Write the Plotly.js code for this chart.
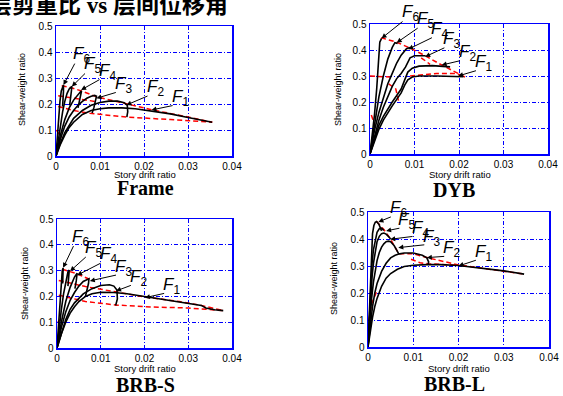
<!DOCTYPE html>
<html><head><meta charset="utf-8">
<script src="https://cdn.plot.ly/plotly-3.0.1.min.js"></script>
<style>html,body{margin:0;padding:0;background:#fff}#chart{width:563px;height:396px}</style>
</head><body><div id="chart"></div>
<script>
// ---------- DATA ----------
const panelNames = ['Frame', 'DYB', 'BRB-S', 'BRB-L'];
const chartTitle = '层剪重比 vs 层间位移角';
const xAxisLabel = 'Story drift ratio';
const yAxisLabel = 'Shear-weight ratio';
const curveNames = ['F1','F2','F3','F4','F5','F6'];

// Frame
const frame_F1_x = [0,0.001,0.002,0.003,0.004,0.006,0.008,0.01,0.012,0.015,0.018,0.022,0.026,0.03,0.0355];
const frame_F1_y = [0,0.045,0.08,0.11,0.13,0.16,0.175,0.182,0.185,0.185,0.182,0.173,0.162,0.148,0.13];
const frame_F2_x = [0,0.001,0.002,0.003,0.004,0.006,0.008,0.01,0.012,0.014,0.0155,0.0162,0.0163,0.0161];
const frame_F2_y = [0,0.05,0.09,0.12,0.145,0.175,0.195,0.206,0.211,0.211,0.205,0.195,0.17,0.15];
const frame_F3_x = [0,0.001,0.002,0.003,0.004,0.005,0.006,0.007,0.008,0.0088,0.0092,0.009,0.0086,0.0082];
const frame_F3_y = [0,0.065,0.115,0.15,0.175,0.195,0.21,0.222,0.23,0.233,0.23,0.21,0.185,0.165];
const frame_F4_x = [0,0.001,0.002,0.003,0.004,0.005,0.0056,0.0058,0.0056,0.0053,0.005];
const frame_F4_y = [0,0.08,0.14,0.185,0.215,0.238,0.248,0.25,0.23,0.205,0.185];
const frame_F5_x = [0,0.0005,0.001,0.0015,0.002,0.0025,0.003,0.0034,0.0036,0.0035,0.0033,0.0031];
const frame_F5_y = [0,0.06,0.12,0.17,0.21,0.24,0.258,0.266,0.268,0.25,0.22,0.195];
const frame_F6_x = [0,0.0003,0.0006,0.0009,0.0012,0.0015,0.0017,0.0017,0.0016,0.0015];
const frame_F6_y = [0,0.08,0.15,0.21,0.25,0.27,0.273,0.25,0.22,0.19];
const frame_R1_x = [0.0013,0.0036,0.0058,0.0092,0.0162,0.022,0.03,0.0355];
const frame_R1_y = [0.27,0.262,0.25,0.228,0.2,0.177,0.15,0.13];
const frame_R2_x = [0.0005,0.0045,0.0088];
const frame_R2_y = [0.232,0.222,0.21];
const frame_R3_x = [0.0005,0.004,0.0077,0.016,0.026,0.0355];
const frame_R3_y = [0.19,0.175,0.164,0.15,0.14,0.13];
const frame_R4_x = [0.0001,0.0012];
const frame_R4_y = [0.1,0.07];

// DYB
const dyb_F1_x = [0,0.001,0.002,0.003,0.004,0.005,0.006,0.007,0.0078,0.0085,0.0095,0.011,0.015,0.019,0.021];
const dyb_F1_y = [0,0.05,0.095,0.13,0.16,0.185,0.21,0.235,0.265,0.285,0.296,0.3,0.3,0.298,0.297];
const dyb_F2_x = [0,0.001,0.002,0.003,0.004,0.005,0.006,0.007,0.0078,0.0085,0.0095,0.011,0.014,0.017,0.018];
const dyb_F2_y = [0,0.06,0.11,0.145,0.175,0.2,0.225,0.25,0.285,0.315,0.33,0.338,0.34,0.338,0.335];
const dyb_F3_x = [0,0.001,0.002,0.003,0.004,0.005,0.006,0.007,0.008,0.009,0.01,0.012,0.0125];
const dyb_F3_y = [0,0.07,0.13,0.18,0.22,0.26,0.29,0.31,0.335,0.37,0.378,0.38,0.378];
const dyb_F4_x = [0,0.001,0.002,0.003,0.004,0.005,0.006,0.007,0.0082,0.009];
const dyb_F4_y = [0,0.09,0.16,0.22,0.27,0.31,0.35,0.38,0.405,0.41];
const dyb_F5_x = [0,0.001,0.002,0.003,0.004,0.005,0.0056,0.0062];
const dyb_F5_y = [0,0.12,0.22,0.3,0.365,0.41,0.428,0.425];
const dyb_F6_x = [0,0.0005,0.001,0.0015,0.0019,0.0022,0.0026];
const dyb_F6_y = [0,0.07,0.15,0.25,0.34,0.43,0.445];
const dyb_R1_x = [0.0025,0.006,0.0093,0.0124,0.0157,0.0187,0.0217];
const dyb_R1_y = [0.447,0.43,0.405,0.378,0.346,0.32,0.293];
const dyb_R2_x = [0,0.0045];
const dyb_R2_y = [0.3,0.296];
const dyb_R3_x = [0.0003,0.0015];
const dyb_R3_y = [0.15,0.09];
const dyb_R4_x = [0.0042,0.0058,0.0064];
const dyb_R4_y = [0.27,0.25,0.205];
const dyb_R5_x = [0.009,0.012,0.015,0.019,0.0215];
const dyb_R5_y = [0.3,0.305,0.31,0.31,0.3];
const dyb_R6_x = [0.0115,0.0135];
const dyb_R6_y = [0.37,0.345];

// BRB-S
const brbs_F1_x = [0,0.001,0.002,0.003,0.004,0.005,0.0065,0.008,0.01,0.013,0.016,0.02,0.024,0.028,0.031,0.033,0.034,0.036,0.038];
const brbs_F1_y = [0,0.055,0.1,0.135,0.16,0.18,0.2,0.21,0.216,0.215,0.21,0.2,0.19,0.18,0.172,0.165,0.155,0.148,0.145];
const brbs_F2_x = [0,0.001,0.002,0.003,0.004,0.006,0.008,0.01,0.012,0.013,0.0137,0.0138,0.0134];
const brbs_F2_y = [0,0.06,0.11,0.15,0.175,0.21,0.23,0.242,0.245,0.24,0.225,0.19,0.165];
const brbs_F3_x = [0,0.001,0.002,0.003,0.004,0.005,0.006,0.007,0.0073,0.0072,0.0069,0.0065];
const brbs_F3_y = [0,0.08,0.14,0.185,0.215,0.24,0.258,0.267,0.268,0.25,0.225,0.2];
const brbs_F4_x = [0,0.001,0.002,0.003,0.004,0.0045,0.0046,0.0044,0.0041];
const brbs_F4_y = [0,0.1,0.18,0.235,0.275,0.287,0.29,0.26,0.23];
const brbs_F5_x = [0,0.0005,0.001,0.0015,0.002,0.0025,0.0028,0.0027,0.0025];
const brbs_F5_y = [0,0.08,0.15,0.21,0.26,0.295,0.302,0.27,0.24];
const brbs_F6_x = [0,0.0003,0.0006,0.0009,0.0012,0.0014,0.0014,0.0013];
const brbs_F6_y = [0,0.08,0.17,0.25,0.3,0.31,0.28,0.25];
const brbs_R1_x = [0.0012,0.0045,0.008];
const brbs_R1_y = [0.305,0.288,0.262];
const brbs_R2_x = [0.0004,0.0065,0.0133,0.02,0.028,0.033,0.038];
const brbs_R2_y = [0.262,0.238,0.218,0.198,0.18,0.165,0.145];
const brbs_R3_x = [0.0004,0.0065,0.0133,0.02,0.03,0.038];
const brbs_R3_y = [0.205,0.18,0.167,0.16,0.155,0.145];
const brbs_R4_x = [0.0002,0.0012];
const brbs_R4_y = [0.1,0.12];

// BRB-L
const brbl_F1_x = [0,0.0005,0.001,0.0015,0.002,0.003,0.004,0.005,0.0065,0.008,0.01,0.013,0.016,0.02,0.025,0.03,0.0345];
const brbl_F1_y = [0,0.06,0.11,0.15,0.18,0.225,0.255,0.272,0.288,0.298,0.303,0.305,0.305,0.302,0.292,0.282,0.27];
const brbl_F2_x = [0,0.0005,0.001,0.0015,0.002,0.003,0.004,0.005,0.006,0.007,0.008,0.01,0.012,0.013,0.0134,0.0133];
const brbl_F2_y = [0,0.08,0.15,0.2,0.235,0.28,0.31,0.33,0.34,0.345,0.348,0.348,0.34,0.33,0.315,0.305];
const brbl_F3_x = [0,0.0004,0.0008,0.0012,0.0016,0.002,0.0025,0.003,0.0035,0.004,0.0045,0.005,0.0058,0.0068];
const brbl_F3_y = [0,0.1,0.18,0.24,0.285,0.32,0.35,0.37,0.382,0.39,0.392,0.39,0.375,0.345];
const brbl_F4_x = [0,0.0003,0.0006,0.0009,0.0012,0.0016,0.002,0.0025,0.003,0.0035,0.004,0.0045,0.005];
const brbl_F4_y = [0,0.1,0.19,0.26,0.31,0.36,0.39,0.41,0.42,0.422,0.418,0.41,0.4];
const brbl_F5_x = [0,0.0003,0.0006,0.0009,0.0012,0.0016,0.002,0.0025,0.003,0.0035];
const brbl_F5_y = [0,0.12,0.23,0.31,0.36,0.4,0.425,0.438,0.44,0.432];
const brbl_F6_x = [0,0.0002,0.0004,0.0006,0.0008,0.001,0.0013,0.0016,0.0019,0.0024,0.003];
const brbl_F6_y = [0,0.1,0.2,0.3,0.38,0.42,0.45,0.462,0.465,0.455,0.43];
const brbl_R1_x = [0.0019,0.0035,0.0049,0.0058,0.0068,0.01,0.0133,0.02,0.027,0.0345];
const brbl_R1_y = [0.465,0.435,0.402,0.375,0.345,0.345,0.33,0.304,0.288,0.27];
const brbl_R2_x = [0.0095,0.0115,0.0133,0.02];
const brbl_R2_y = [0.325,0.312,0.308,0.303];
const brbl_R3_x = [0.0002,0.0008,0.0019];
const brbl_R3_y = [0.1,0.16,0.205];

// ---------- BUILD ----------
const W = 563, H = 396;
const PX = x => x / W, PY = y => 1 - y / H;

const panels = [
  {name: panelNames[0], xa:'x',  ya:'y',  box:[56,232,26,156],
   curves:[[frame_F1_x,frame_F1_y],[frame_F2_x,frame_F2_y],[frame_F3_x,frame_F3_y],[frame_F4_x,frame_F4_y],[frame_F5_x,frame_F5_y],[frame_F6_x,frame_F6_y]],
   reds:[[frame_R1_x,frame_R1_y],[frame_R2_x,frame_R2_y],[frame_R3_x,frame_R3_y],[frame_R4_x,frame_R4_y]],
   labels:[[0.0282,0.222,0.0217,0.177],[0.0225,0.26,0.016,0.196],[0.0153,0.273,0.0092,0.222],[0.0116,0.324,0.0057,0.254],[0.0083,0.35,0.0036,0.267],[0.0058,0.388,0.0017,0.273]],
   ttl:[145,188], xl:[145,174], yl:[22,90]},
  {name: panelNames[1], xa:'x2', ya:'y2', box:[370,548,24,154],
   curves:[[dyb_F1_x,dyb_F1_y],[dyb_F2_x,dyb_F2_y],[dyb_F3_x,dyb_F3_y],[dyb_F4_x,dyb_F4_y],[dyb_F5_x,dyb_F5_y],[dyb_F6_x,dyb_F6_y]],
   reds:[[dyb_R1_x,dyb_R1_y],[dyb_R2_x,dyb_R2_y],[dyb_R3_x,dyb_R3_y],[dyb_R4_x,dyb_R4_y],[dyb_R5_x,dyb_R5_y],[dyb_R6_x,dyb_R6_y]],
   labels:[[0.0255,0.349,0.0198,0.3],[0.0219,0.387,0.0161,0.342],[0.0184,0.438,0.0124,0.374],[0.0156,0.477,0.0086,0.403],[0.0124,0.515,0.006,0.428],[0.009,0.541,0.0026,0.445]],
   ttl:[454,190], xl:[460,174], yl:[338,90]},
  {name: panelNames[2], xa:'x3', ya:'y3', box:[57,232,219,348],
   curves:[[brbs_F1_x,brbs_F1_y],[brbs_F2_x,brbs_F2_y],[brbs_F3_x,brbs_F3_y],[brbs_F4_x,brbs_F4_y],[brbs_F5_x,brbs_F5_y],[brbs_F6_x,brbs_F6_y]],
   reds:[[brbs_R1_x,brbs_R1_y],[brbs_R2_x,brbs_R2_y],[brbs_R3_x,brbs_R3_y],[brbs_R4_x,brbs_R4_y]],
   labels:[[0.0262,0.24,0.0201,0.195],[0.0186,0.272,0.0135,0.221],[0.0152,0.311,0.0075,0.26],[0.0117,0.359,0.0046,0.282],[0.0083,0.385,0.003,0.298],[0.0053,0.428,0.0014,0.311]],
   ttl:[145,385], xl:[145,368], yl:[25,284]},
  {name: panelNames[3], xa:'x4', ya:'y4', box:[368,549,212,347],
   curves:[[brbl_F1_x,brbl_F1_y],[brbl_F2_x,brbl_F2_y],[brbl_F3_x,brbl_F3_y],[brbl_F4_x,brbl_F4_y],[brbl_F5_x,brbl_F5_y],[brbl_F6_x,brbl_F6_y]],
   reds:[[brbl_R1_x,brbl_R1_y],[brbl_R2_x,brbl_R2_y],[brbl_R3_x,brbl_R3_y]],
   labels:[[0.0255,0.349,0.02,0.3],[0.0185,0.362,0.013,0.331],[0.0141,0.405,0.0067,0.368],[0.0115,0.436,0.0049,0.399],[0.0086,0.467,0.004,0.43],[0.0067,0.51,0.0023,0.463]],
   ttl:[455,384], xl:[459,368], yl:[334,279]}
];

const traces = [];
const annotations = [];
const layout = {
  width: W, height: H, margin:{l:0,r:0,t:0,b:0},
  paper_bgcolor:'#fff', plot_bgcolor:'#fff', showlegend:false
};

function axisCfg(domain, anchor, range, dtick) {
  return {domain, anchor, range, dtick, tick0:0, showgrid:true, gridcolor:'#0000ff', griddash:'4px,2px,1px,2px', gridwidth:1,
    showline:true, mirror:true, linecolor:'#0000ff', linewidth:1.5, zeroline:false, ticks:'',
    tickfont:{family:'Liberation Sans, Arial, sans-serif', size:10, color:'#000'}, fixedrange:true, automargin:false};
}

panels.forEach((p, i) => {
  const [x0,x1,y0,y1] = p.box;
  const sx = 0.04 / (x1 - x0), sy = 0.5 / (y1 - y0);   // data units per pixel
  const toPxX = v => x0 + v / sx, toPxY = v => y1 - v / sy;
  const xk = i === 0 ? 'xaxis' : 'xaxis' + (i+1);
  const yk = i === 0 ? 'yaxis' : 'yaxis' + (i+1);
  layout[xk] = axisCfg([PX(x0), PX(x1)], p.ya, [0, 0.04], 0.01);
  layout[yk] = axisCfg([PY(y1), PY(y0)], p.xa, [0, 0.5], 0.1);
  p.reds.forEach(r => traces.push({x:r[0], y:r[1], xaxis:p.xa, yaxis:p.ya, mode:'lines', hoverinfo:'skip',
    line:{color:'#ff0000', width:1.5, dash:'5px,3px'}}));
  p.curves.forEach((c, k) => traces.push({x:c[0], y:c[1], xaxis:p.xa, yaxis:p.ya, mode:'lines', name:curveNames[k],
    line:{color:'#000', width:1.6}}));
  p.labels.forEach((l, k) => {
    // arrow from lower-left corner of the label to the curve
    annotations.push({xref:p.xa, yref:p.ya, axref:p.xa, ayref:p.ya,
      x:l[2], y:l[3], ax:l[0] - 6*sx, ay:l[1] - 7*sy, text:'', showarrow:true,
      arrowhead:2, arrowsize:1, arrowwidth:1, arrowcolor:'#000', standoff:0, startstandoff:0});
    annotations.push({xref:'paper', yref:'paper', x:PX(toPxX(l[0])), y:PY(toPxY(l[1])), text:'<i>F</i><sub>' + (k+1) + '</sub>', showarrow:false,
      xanchor:'center', yanchor:'middle',
      font:{family:'Liberation Sans, Arial, sans-serif', size:17, color:'#000'}});
  });
  annotations.push({xref:'paper', yref:'paper', x:PX(p.ttl[0]), y:PY(p.ttl[1]), text:'<b>'+p.name+'</b>', showarrow:false,
    xanchor:'center', yanchor:'middle', font:{family:'Liberation Serif, Times New Roman, serif', size:20, color:'#000'}});
  annotations.push({xref:'paper', yref:'paper', x:PX(p.xl[0]), y:PY(p.xl[1]), text:xAxisLabel, showarrow:false,
    xanchor:'center', yanchor:'middle', font:{family:'Liberation Sans, Arial, sans-serif', size:9.5, color:'#000'}});
  annotations.push({xref:'paper', yref:'paper', x:PX(p.yl[0]), y:PY(p.yl[1]), text:yAxisLabel, showarrow:false, textangle:-90,
    xanchor:'center', yanchor:'middle', font:{family:'Liberation Sans, Arial, sans-serif', size:9, color:'#000'}});
});

annotations.push({xref:'paper', yref:'paper', x:PX(-13), y:PY(5), text:'<b>'+chartTitle+'</b>', showarrow:false,
  xanchor:'left', yanchor:'middle', font:{family:'Liberation Serif, Noto Sans CJK SC, serif', size:23, color:'#000'}});

layout.annotations = annotations;
Plotly.newPlot('chart', traces, layout, {staticPlot:true, displayModeBar:false});
</script></body></html>
